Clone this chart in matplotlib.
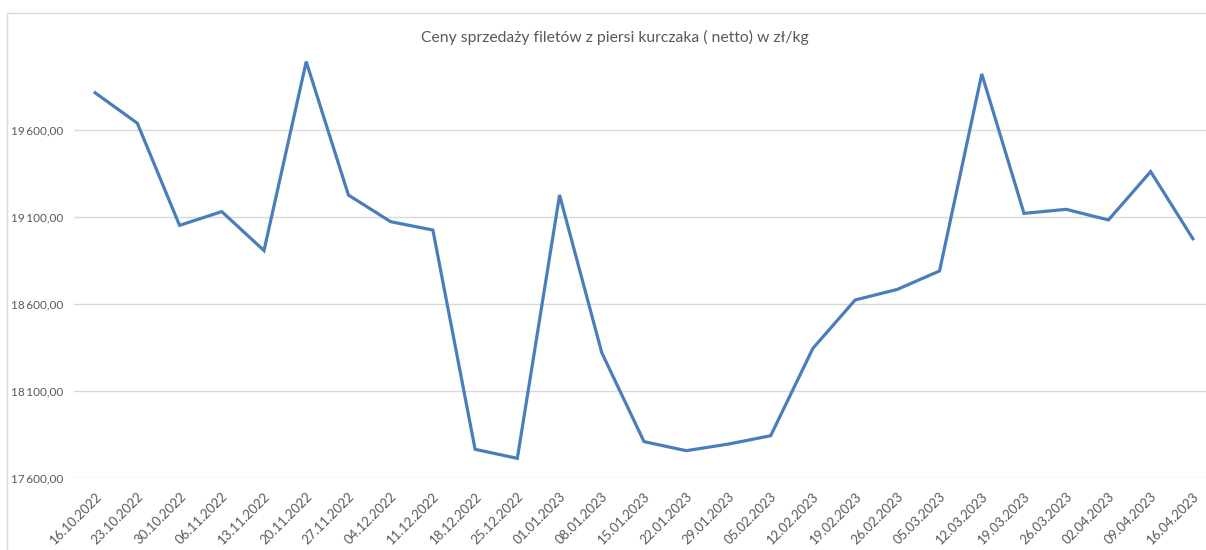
import matplotlib.pyplot as plt
from matplotlib.patches import Rectangle

# dates (weekly) and prices
dates = ['16.10.2022', '23.10.2022', '30.10.2022', '06.11.2022', '13.11.2022',
         '20.11.2022', '27.11.2022', '04.12.2022', '11.12.2022', '18.12.2022',
         '25.12.2022', '01.01.2023', '08.01.2023', '15.01.2023', '22.01.2023',
         '29.01.2023', '05.02.2023', '12.02.2023', '19.02.2023', '26.02.2023',
         '05.03.2023', '12.03.2023', '19.03.2023', '26.03.2023', '02.04.2023',
         '09.04.2023', '16.04.2023']
prices = [19814, 19639, 19052, 19131, 18907, 19993, 19226, 19073, 19025, 17765,
          17713, 19226, 18320, 17809, 17757, 17795, 17843, 18345, 18623, 18684,
          18790, 19922, 19121, 19144, 19083, 19361, 18975]
yticks = [17600, 18100, 18600, 19100, 19600]

title = 'Ceny sprzedaży filetów z piersi kurczaka ( netto) w zł/kg'

plt.rcParams['font.family'] = ['Lato', 'DejaVu Sans']
W, H = 1206, 550
fig = plt.figure(figsize=(W / 100, H / 100), dpi=100)

# chart area border (light gray), runs off the right/bottom edge
fig.patches.append(Rectangle((7 / W, -0.1), 1.2, 1 - 13 / H + 0.1,
                             transform=fig.transFigure, fill=False,
                             edgecolor='#d9d9d9', linewidth=1))

left, right, top, bottom = 74, 1214, 43, 478
ax = fig.add_axes([left / W, 1 - bottom / H, (right - left) / W, (bottom - top) / H])

x = list(range(len(dates)))
ax.plot(x, prices, color='#4a7ebb', linewidth=2.3, solid_joinstyle='miter')

ax.set_xlim(-0.5, len(dates) - 0.5)
ax.set_ylim(17600, 20100)
ax.set_yticks(yticks)
ax.set_yticklabels([f'{v:,.2f}'.replace(',', '\u2009').replace('.', ',') for v in yticks])
ax.set_xticks(x)
ax.set_xticklabels(dates, rotation=45, ha='right', va='top', rotation_mode='anchor')
ax.tick_params(axis='y', length=0, labelsize=8.5, colors='#595959', pad=8)
ax.tick_params(axis='x', length=0, labelsize=9.5, colors='#595959', pad=9)
ax.grid(axis='y', color='#d9d9d9', linewidth=1)
ax.set_axisbelow(True)
for s in ax.spines.values():
    s.set_visible(False)

fig.text(615 / W, 1 - 37 / H, title, ha='center', va='center',
         fontsize=11.3, color='#595959')

fig.savefig('out.png', dpi=100)
